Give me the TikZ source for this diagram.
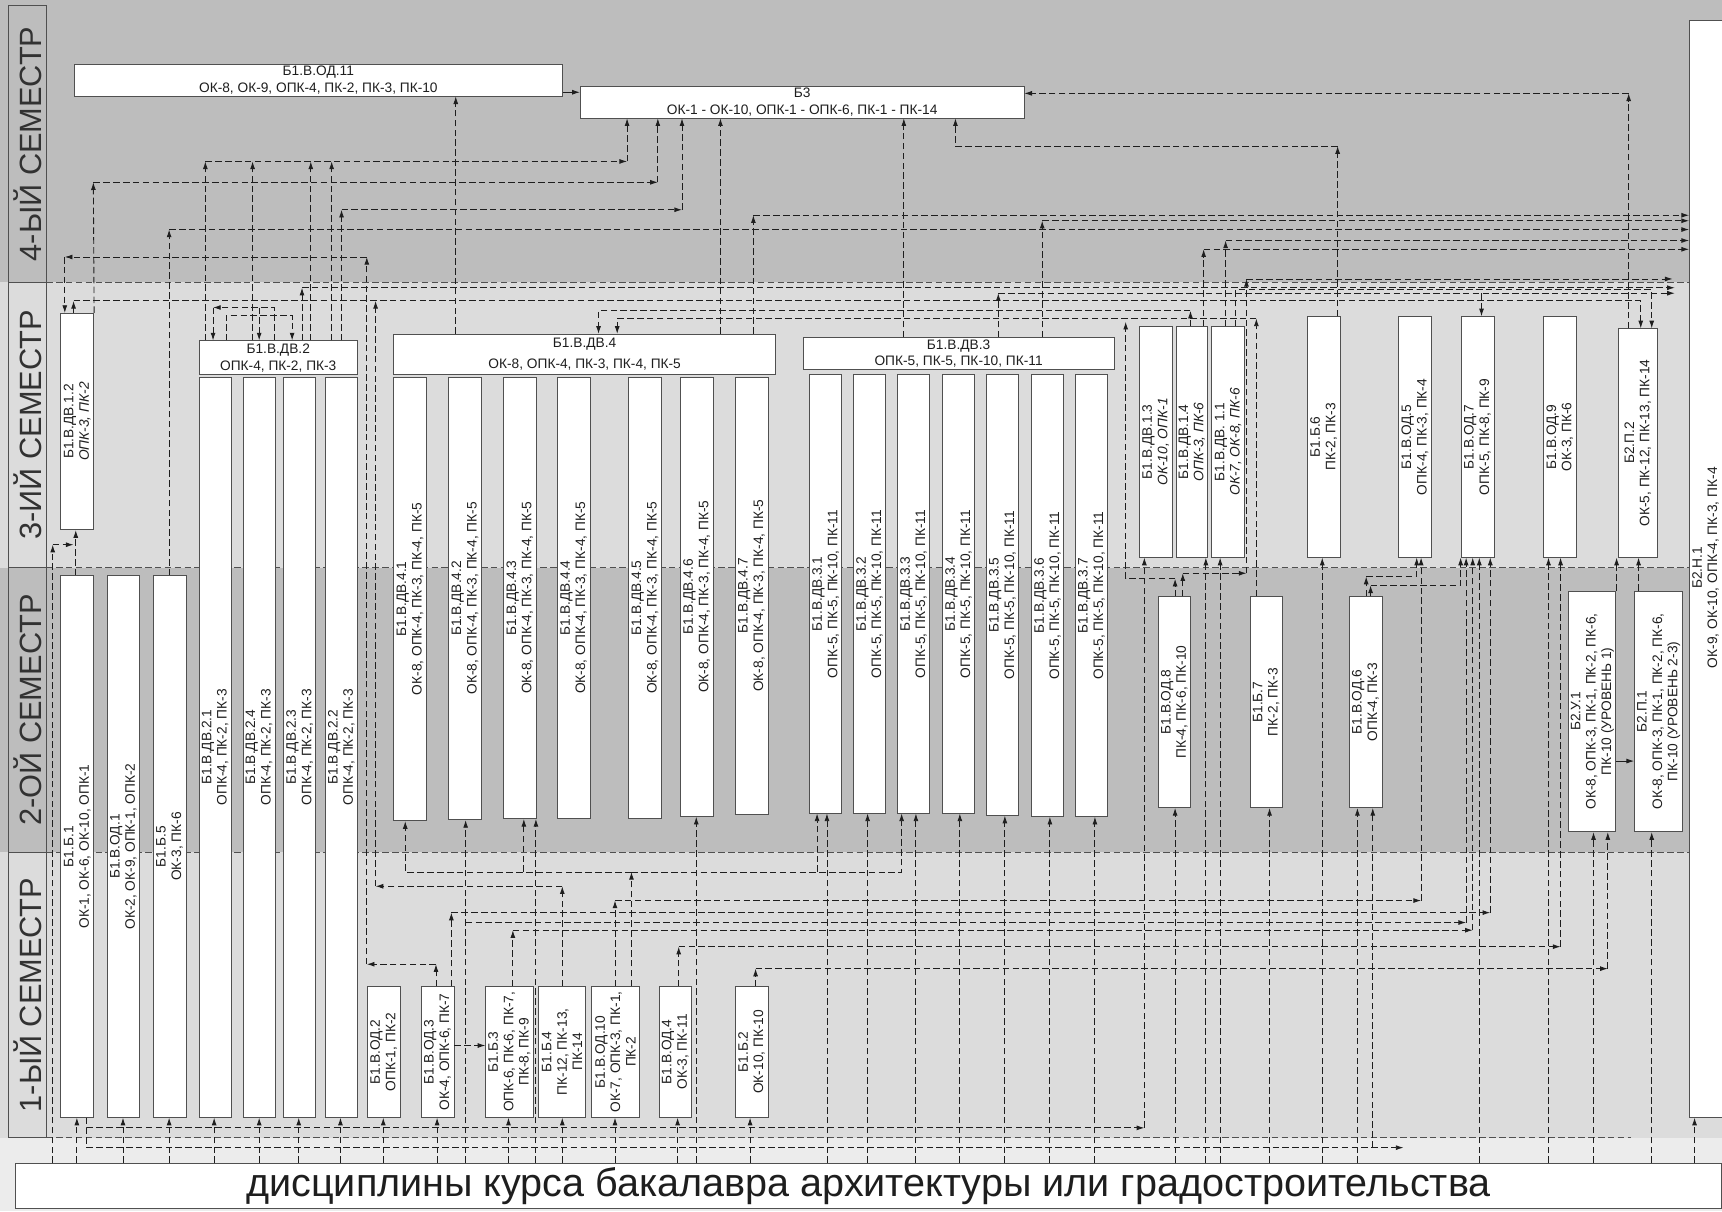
\documentclass[tikz,border=0pt]{standalone}
\usepackage{fontspec}
\setmainfont{Liberation Sans}
\usetikzlibrary{arrows.meta,positioning}

\definecolor{BandDark}{RGB}{189,189,189}
\definecolor{BandLight}{RGB}{220,220,220}
\definecolor{BandPale}{RGB}{236,236,236}
\definecolor{LabelGray}{RGB}{50,50,50}
\definecolor{EdgeGray}{RGB}{80,80,80}
\definecolor{LinkBlack}{RGB}{30,30,30}

\tikzset{
  dbox/.style={draw=EdgeGray, fill=white, line width=0.7pt, anchor=north west, inner sep=0pt, text=LinkBlack},
  htext/.style={align=center, font=\fontsize{12.5}{15}\selectfont},
  vtext/.style={rotate=90, align=center, inner sep=0pt, text=LinkBlack, font=\fontsize{12.5}{14}\selectfont},
  semlabel/.style={rotate=90, inner sep=0pt, text=LabelGray, font=\fontsize{28}{30}\selectfont},
  strip/.style={draw=EdgeGray, line width=0.7pt},
  border/.style={dash pattern=on 6pt off 3pt, draw=EdgeGray, line width=0.7pt},
  link/.style={dash pattern=on 6pt off 3pt, draw=LinkBlack, line width=0.8pt, -{Latex[length=7pt,width=4.5pt]}},
  wire/.style={link, -},
  firm/.style={draw=LinkBlack, line width=0.8pt, -{Latex[length=7pt,width=4.5pt]}}
}

\begin{document}
\begin{tikzpicture}[x=1pt, y=-1pt]
  \useasboundingbox (0,0) rectangle (1568,1103);

  % semester bands
  \fill[BandLight] (0,0) rectangle (1568,1103);
  \fill[BandDark] (0,0) rectangle (1568,257);
  \fill[BandDark] (0,517) rectangle (1538,776);
  \fill[BandPale] (0,1036) rectangle (1568,1103);
  \foreach \t/\b/\c/\txt/\n in {5/257/BandDark/4-ЫЙ СЕМЕСТР/4, 257/517/BandLight/3-ИЙ СЕМЕСТР/3,
                                517/776/BandDark/2-ОЙ СЕМЕСТР/2, 776/1036/BandLight/1-ЫЙ СЕМЕСТР/1} {
    \filldraw[strip, fill=\c] (8,\t) rectangle (42,\b);
    \node[semlabel] (sem\n) at (25,{(\t+\b)/2}) {\txt};
  }
  \foreach \y in {257,517,776} \draw[border] (42,\y) -- (1538,\y);
  \draw[border] (42,1036) -- (1485,1036);

  % 4th semester
  \node[dbox, htext, minimum width=445, minimum height=29] (od11) at (67,58) {Б1.В.ОД.11\\ОК-8, ОК-9, ОПК-4, ПК-2, ПК-3, ПК-10};
  \node[dbox, htext, minimum width=404, minimum height=29] (b3) at (528,78) {Б3\\ОК-1 - ОК-10, ОПК-1 - ОПК-6, ПК-1 - ПК-14};

  % 3rd semester
  \node[dbox, minimum width=30, minimum height=197] (dv12) at (55,285) {};
  \node[vtext] (t-dv12) at (dv12.center) {Б1.В.ДВ.1.2\\\textit{ОПК-3, ПК-2}};

  \node[dbox, htext, minimum width=144, minimum height=31] (dv2) at (181,310) {Б1.В.ДВ.2\\ОПК-4, ПК-2, ПК-3};
  \foreach \k/\x in {1/181, 4/221, 3/258, 2/296} {
    \node[dbox, minimum width=29, minimum height=674] (dv2\k) at (\x,343) {};
    \node[vtext] (t-dv2\k) at (dv2\k.center) {Б1.В.ДВ.2.\k\\ОПК-4, ПК-2, ПК-3};
  }

  \node[dbox, htext, font=\fontsize{12.5}{19}\selectfont, minimum width=348, minimum height=37] (dv4) at (358,304) {Б1.В.ДВ.4\\ОК-8, ОПК-4, ПК-3, ПК-4, ПК-5};
  \foreach \k/\x/\h in {1/358/404, 2/408/403, 3/458/402, 4/507/402, 5/572/402, 6/619/400, 7/669/398} {
    \node[dbox, minimum width=30, minimum height=\h] (dv4\k) at (\x,343) {};
    \node[vtext] (t-dv4\k) at (dv4\k.center) {Б1.В.ДВ.4.\k\\ОК-8, ОПК-4, ПК-3, ПК-4, ПК-5};
  }

  \node[dbox, htext, minimum width=283, minimum height=29] (dv3) at (731,307) {Б1.В.ДВ.3\\ОПК-5, ПК-5, ПК-10, ПК-11};
  \foreach \k/\x/\h in {1/737/399, 2/777/399, 3/817/399, 4/858/399, 5/898/401, 6/939/402, 7/979/402} {
    \node[dbox, minimum width=29, minimum height=\h] (dv3\k) at (\x,341) {};
    \node[vtext] (t-dv3\k) at (dv3\k.center) {Б1.В.ДВ.3.\k\\ОПК-5, ПК-5, ПК-10, ПК-11};
  }

  \node[dbox, minimum width=30, minimum height=210] (dv13) at (1037,297) {};
  \node[vtext] (t-dv13) at (dv13.center) {Б1.В.ДВ.1.3\\\textit{ОК-10, ОПК-1}};
  \node[dbox, minimum width=28, minimum height=210] (dv14) at (1071,297) {};
  \node[vtext] (t-dv14) at (dv14.center) {Б1.В.ДВ.1.4\\\textit{ОПК-3, ПК-6}};
  \node[dbox, minimum width=30, minimum height=210] (dv11) at (1103,297) {};
  \node[vtext] (t-dv11) at (dv11.center) {Б1.В.ДВ. 1.1\\\textit{ОК-7, ОК-8, ПК-6}};

  \node[dbox, minimum width=30, minimum height=219] (bb6) at (1190,288) {};
  \node[vtext] (t-bb6) at (bb6.center) {Б1.Б.6\\ПК-2, ПК-3};
  \node[dbox, minimum width=30, minimum height=219] (od5) at (1273,288) {};
  \node[vtext] (t-od5) at (od5.center) {Б1.В.ОД.5\\ОПК-4, ПК-3, ПК-4};
  \node[dbox, minimum width=30, minimum height=219] (od7) at (1330,288) {};
  \node[vtext] (t-od7) at (od7.center) {Б1.В.ОД.7\\ОПК-5, ПК-8, ПК-9};
  \node[dbox, minimum width=30, minimum height=219] (od9) at (1405,288) {};
  \node[vtext] (t-od9) at (od9.center) {Б1.В.ОД.9\\ОК-3, ПК-6};
  \node[dbox, minimum width=36, minimum height=208] (bp2) at (1473,299) {};
  \node[vtext] (t-bp2) at (bp2.center) {Б2.П.2\\ОК-5, ПК-12, ПК-13, ПК-14};

  % 2nd semester
  \node[dbox, minimum width=30, minimum height=493] (bb1) at (55,524) {};
  \node[vtext] (t-bb1) at (bb1.center) {Б1.Б.1\\ОК-1, ОК-6, ОК-10, ОПК-1};
  \node[dbox, minimum width=30, minimum height=493] (od1) at (97,524) {};
  \node[vtext] (t-od1) at (od1.center) {Б1.В.ОД.1\\ОК-2, ОК-9, ОПК-1, ОПК-2};
  \node[dbox, minimum width=30, minimum height=493] (bb5) at (139,524) {};
  \node[vtext] (t-bb5) at (bb5.center) {Б1.Б.5\\ОК-3, ПК-6};

  \node[dbox, minimum width=30, minimum height=192] (od8) at (1054,543) {};
  \node[vtext] (t-od8) at (od8.center) {Б1.В.ОД.8\\ПК-4, ПК-6, ПК-10};
  \node[dbox, minimum width=29, minimum height=192] (bb7) at (1138,543) {};
  \node[vtext] (t-bb7) at (bb7.center) {Б1.Б.7\\ПК-2, ПК-3};
  \node[dbox, minimum width=30, minimum height=192] (od6) at (1228,543) {};
  \node[vtext] (t-od6) at (od6.center) {Б1.В.ОД.6\\ОПК-4, ПК-3};
  \node[dbox, minimum width=43, minimum height=219] (bu1) at (1428,538) {};
  \node[vtext] (t-bu1) at (bu1.center) {Б2.У.1\\ОК-8, ОПК-3, ПК-1, ПК-2, ПК-6,\\ПК-10 (УРОВЕНЬ 1)};
  \node[dbox, minimum width=44, minimum height=219] (bp1) at (1488,538) {};
  \node[vtext] (t-bp1) at (bp1.center) {Б2.П.1\\ОК-8, ОПК-3, ПК-1, ПК-2, ПК-6,\\ПК-10 (УРОВЕНЬ 2-3)};

  % 1st semester
  \node[dbox, minimum width=30, minimum height=119] (od2) at (334,898) {};
  \node[vtext] (t-od2) at (od2.center) {Б1.В.ОД.2\\ОПК-1, ПК-2};
  \node[dbox, minimum width=30, minimum height=119] (od3) at (383,898) {};
  \node[vtext] (t-od3) at (od3.center) {Б1.В.ОД.3\\ОК-4, ОПК-6, ПК-7};
  \node[dbox, minimum width=43, minimum height=119] (bb3) at (442,898) {};
  \node[vtext] (t-bb3) at (bb3.center) {Б1.Б.3\\ОПК-6, ПК-6, ПК-7,\\ПК-8, ПК-9};
  \node[dbox, minimum width=43, minimum height=119] (bb4) at (490,898) {};
  \node[vtext] (t-bb4) at (bb4.center) {Б1.Б.4\\ПК-12, ПК-13,\\ПК-14};
  \node[dbox, minimum width=44, minimum height=119] (od10) at (538,898) {};
  \node[vtext] (t-od10) at (od10.center) {Б1.В.ОД.10\\ОК-7, ОПК-3, ПК-1,\\ПК-2};
  \node[dbox, minimum width=29, minimum height=119] (od4) at (600,898) {};
  \node[vtext] (t-od4) at (od4.center) {Б1.В.ОД.4\\ОК-3, ПК-11};
  \node[dbox, minimum width=30, minimum height=119] (bb2) at (669,898) {};
  \node[vtext] (t-bb2) at (bb2.center) {Б1.Б.2\\ОК-10, ПК-10};

  % research work and the base
  \node[dbox, minimum width=34, minimum height=999] (bn1) at (1538,18) {};
  \node[vtext] (t-bn1) at (1553,517) {Б2.Н.1\\ОК-9, ОК-10, ОПК-4, ПК-3, ПК-4};
  \node[dbox, minimum width=1553, minimum height=41, font=\fontsize{36}{40}\selectfont] (base) at (14,1059) {дисциплины курса бакалавра архитектуры или градостроительства};

  % links into B3 and OD.11
  \draw[firm] (od11.east |- 0,84) -- (b3.west |- 0,84);
  \draw[link] (bp2.north -| 1483,0) -- (1483,85);
  \draw[link] (1483,85) -- (b3.east |- 0,85);
  \draw[link] (bb6.north -| 1218,0) -- (1218,133);
  \draw[link] (1218,133) -| (b3.south -| 870,0);
  \foreach \x in {187,230,283,302} \draw[link] (dv2.north -| \x,0) -- (\x,147);
  \draw[link] (187,147) -- (571,147);
  \draw[link] (571,147) -- (b3.south -| 571,0);
  \draw[link] (dv12.north east) -- (85,166);
  \draw[link] (85,166) -- (599,166);
  \draw[link] (599,166) -- (b3.south -| 599,0);
  \draw[link] (dv2.north -| 311,0) -- (311,191);
  \draw[link] (311,191) -- (621,191);
  \draw[link] (621,191) -- (b3.south -| 621,0);
  \draw[link] (dv4.north -| 656,0) -- (b3.south -| 656,0);
  \draw[link] (dv3.north -| 823,0) -- (b3.south -| 823,0);
  \draw[link] (dv4.north -| 415,0) -- (od11.south -| 415,0);

  % links into B2.N.1
  \foreach \s/\x/\y in {dv4/686/196, dv3/949/201, bb5/154/209, dv11/1116/219, dv14/1096/227} {
    \draw[link] (\s.north -| \x,0) -- (\x,\y);
    \draw[link] (\x,\y) -- (bn1.west |- 0,\y);
  }

  % bundle at the top of the 3rd semester
  \draw[link] (od8.north -| 1077,0) -- (1077,522);
  \draw[link] (1077,522) -- (1135,522);
  \draw[link] (1135,522) -- (1135,254);
  \draw[link] (1135,254) -- (1523,254);
  \draw[link] (od8.north -| 1070,0) -- (1070,527);
  \draw[link] (1070,527) -| (1025,293);
  \draw[link] (dv2.north -| 275,0) -- (275,262);
  \draw[link] (275,262) -- (1525,262);
  \draw[link] (dv3.north -| 909,0) -- (909,267);
  \draw[link] (909,267) -- (1525,267);
  \draw[link] (1349,267) -- (od7.north -| 1349,0);
  \draw[link] (dv11.north -| 1125,0) |- (1504,264) -- (bp2.north -| 1504,0);
  \draw[link] (dv12.north -| 67,0) -- (67,274);
  \draw[link] (67,274) -| (bp2.north -| 1494,0);
  \draw[link] (bb4.north -| 512,0) -- (512,807);
  \draw[link] (512,807) -- (342,807);
  \draw[link] (342,807) -- (342,274);
  \draw[link] (dv14.north -| 1084,0) -- (1084,283);
  \draw[link] (1084,283) -| (dv4.north -| 545,0);
  \draw[link] (bb7.north -| 1144,0) -- (1144,290);
  \draw[link] (1144,290) -| (dv4.north -| 562,0);
  \draw[link] (dv2.north -| 206,0) |- (266,287) -- (dv2.north -| 266,0);
  \draw[link] (dv2.north -| 250,0) |- (194,280);
  \draw[link] (194,280) -- (dv2.north -| 194,0);
  \draw[link] (236,280) -- (dv2.north -| 236,0);

  % links around B1.V.DV.1.2
  \draw[link] (od3.north -| 397,0) -- (397,878);
  \draw[link] (397,878) -- (334,878);
  \draw[link] (334,878) -- (334,234);
  \draw[link] (334,234) -- (59,234);
  \draw[link] (59,234) -- (dv12.north -| 59,0);
  \draw[link] (bb1.north -| 69,0) -- (dv12.south -| 69,0);
  \draw[link] (base.north -| 48,0) -- (48,496);
  \draw[link] (48,496) -- (67,496);

  % 2nd semester links
  \draw[link] (od6.north -| 1244,0) -- (1244,525);
  \draw[link] (1244,525) -| (od5.south -| 1290,0);
  \draw[link] (od6.north -| 1248,0) -- (1248,533);
  \draw[link] (1248,533) -| (od7.south -| 1330,0);
  \draw[firm] (bu1.east |- 0,693) -- (bp1.west |- 0,693);
  \draw[link] (bp1.north -| 1492,0) -- (bp2.south -| 1492,0);
  \draw[link] (bu1.north -| 1472,0) -- (bp2.south -| 1472,0);

  % 1st semester links
  \draw[link] (od10.north -| 575,0) -- (575,794);
  \draw[link] (575,794) -| (dv41.south -| 369,0);
  \draw[link] (575,794) -| (dv33.south -| 821,0);
  \foreach \x/\n in {477/dv43, 744/dv31} \draw[link] (\x,794) -- (\n.south -| \x,0);
  \draw[link] (od10.north -| 560,0) -- (560,820);
  \draw[link] (560,820) -- (1294,820);
  \draw[link] (1294,820) -- (od5.south -| 1294,0);
  \draw[link] (od3.north -| 411,0) -- (411,831);
  \draw[link] (411,831) -- (1357,831);
  \draw[link] (1357,831) -- (od7.south -| 1357,0);
  \draw[link] (424,840) -- (1335,840);
  \draw[link] (1335,840) -- (od7.south -| 1335,0);
  \draw[link] (bb3.north -| 467,0) -- (467,847);
  \draw[link] (467,847) -- (1341,847);
  \draw[link] (1341,847) -- (od7.south -| 1341,0);
  \draw[link] (od4.north -| 618,0) -- (618,862);
  \draw[link] (618,862) -- (1421,862);
  \draw[link] (1421,862) -- (od9.south -| 1421,0);
  \draw[link] (bb2.north -| 688,0) -- (688,882);
  \draw[link] (688,882) -- (1464,882);
  \draw[link] (1464,882) -- (bu1.south -| 1464,0);
  \draw[link] (od3.east |- 0,952) -- (bb3.west |- 0,952);
  \draw[link] (bb1.south -| 79,0) |- (1042,1027);
  \draw[link] (1042,1027) -- (dv13.south -| 1042,0);
  \draw[link] (bb1.south -| 79,0) |- (1278,1045);
  \draw[link] (1250,1045) -- (od6.south -| 1250,0);

  % from the base up to every course
  \foreach \x/\n in {70/bb1, 112/od1, 154/bb5, 195/dv21, 236/dv24, 272/dv23, 310/dv22, 349/od2,
                     398/od3, 424/dv42, 463/bb3, 488/dv43, 512/bb4, 560/od10, 617/od4, 634/dv46,
                     683/bb2, 753/dv31, 790/dv32, 834/dv33, 874/dv34, 915/dv35, 956/dv36, 997/dv37,
                     1070/od8, 1098/dv14, 1111/dv11, 1156/bb7, 1204/bb6, 1236/od6, 1347/od7,
                     1410/od9, 1451/bu1, 1504/bp1, 1543/bn1}
    \draw[link] (base.north -| \x,0) -- (\n.south -| \x,0);
\end{tikzpicture}
\end{document}
